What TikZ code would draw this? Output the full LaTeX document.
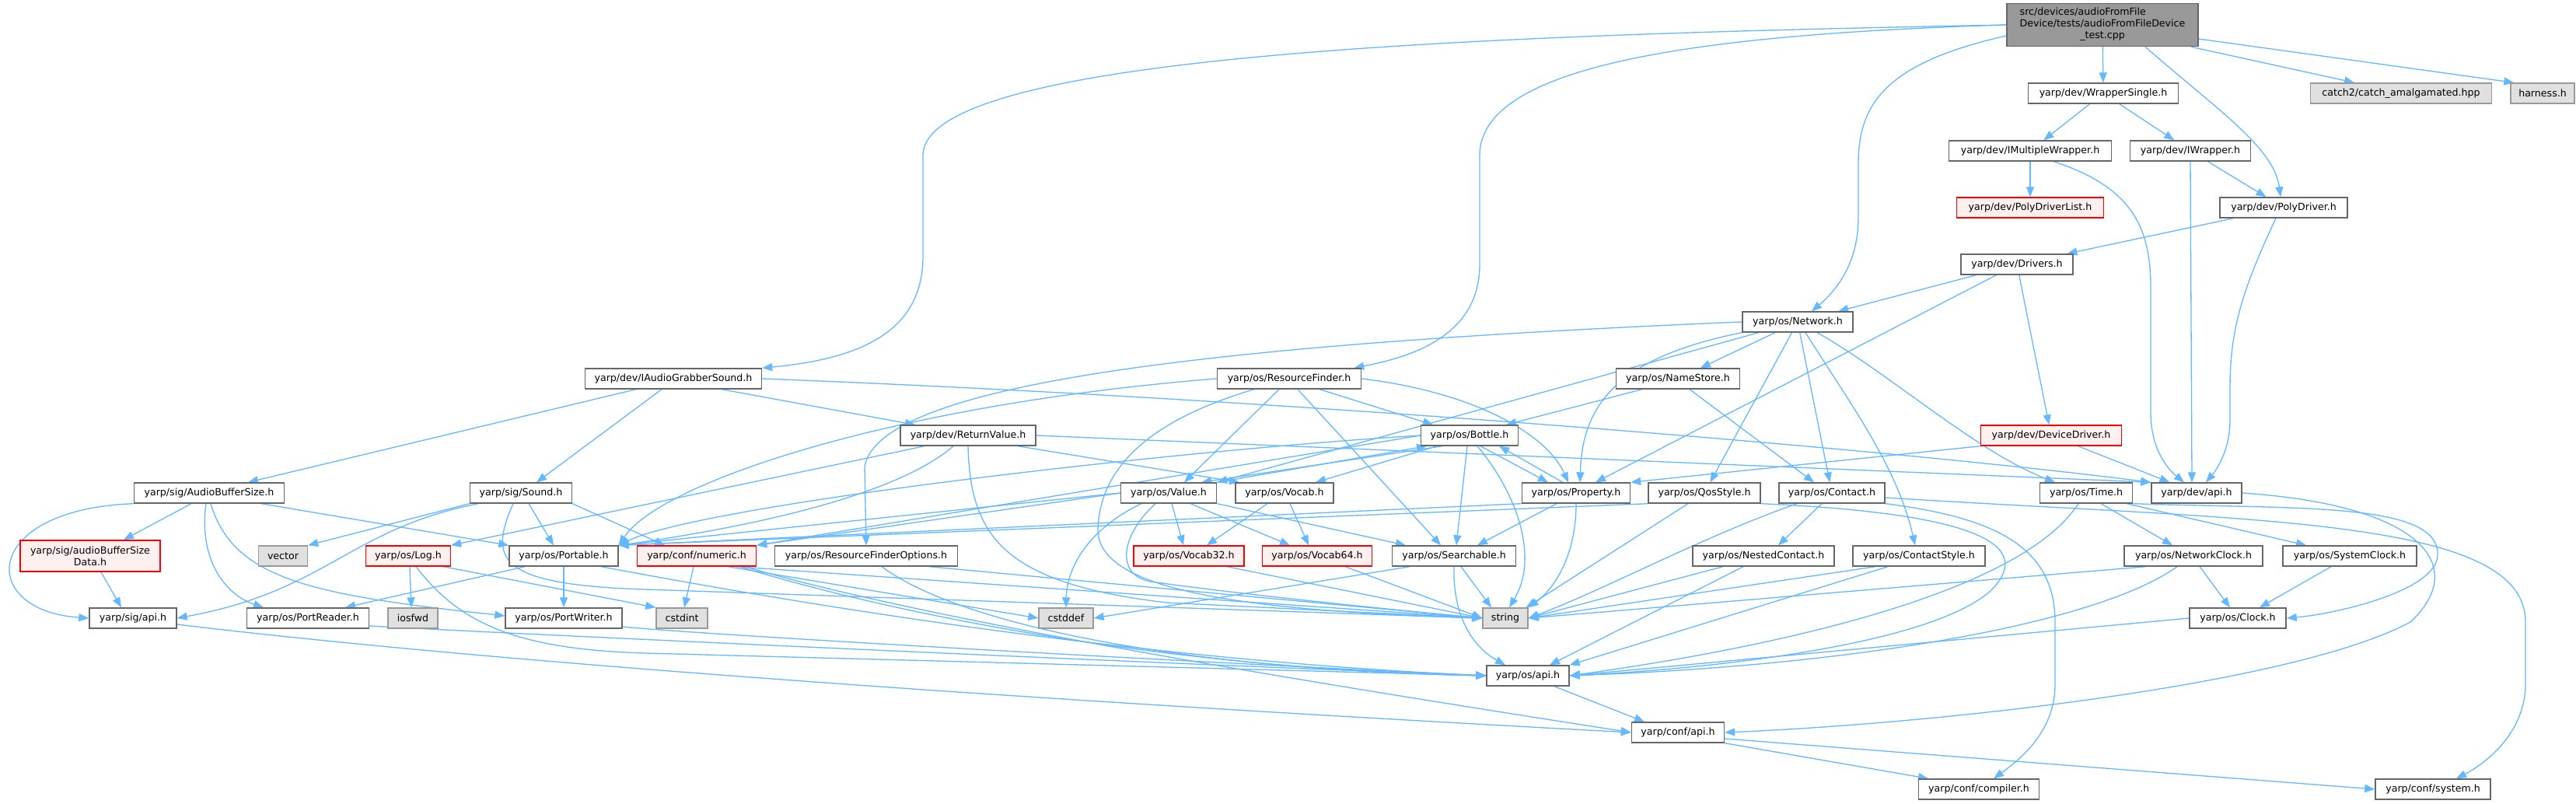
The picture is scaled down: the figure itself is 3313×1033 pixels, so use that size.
\documentclass[tikz,border=0pt]{standalone}
\usepackage{fontspec}
\setmainfont{DejaVu Sans}
\usetikzlibrary{arrows.meta,backgrounds}
\definecolor{eb}{HTML}{63B8FF}
\definecolor{bd}{HTML}{666666}
\definecolor{rd}{HTML}{FF0000}
\definecolor{rf}{HTML}{FFF0F0}
\definecolor{gf}{HTML}{E0E0E0}
\definecolor{gb}{HTML}{999999}
\tikzset{
 nd/.style={draw=bd, line width=1.4pt, fill=white, minimum height=26pt, inner xsep=4pt, inner ysep=2pt, font=\fontsize{12.6}{15}\selectfont},
 rednd/.style={nd, draw=rd, fill=rf},
 graynd/.style={nd, draw=gb, fill=gf},
 topnd/.style={nd, draw=bd, fill=gb},
 ed/.style={draw=eb, line width=1.3pt, -{Triangle[length=13pt,width=10pt]}},
}
\begin{document}
\begin{tikzpicture}[x=1pt,y=-1pt]
\useasboundingbox (0,0) rectangle (3313,1033);
% nodes
\node[topnd, minimum width=246pt, minimum height=55pt] (T) at (2704,32) {\begin{tabular}{@{}l@{}}src/devices/audioFromFile\\Device/tests/audioFromFileDevice\\\multicolumn{1}{@{}c@{}}{\_test.cpp}\end{tabular}};
\node[nd, minimum width=193pt] (WS) at (2705,120) {yarp/dev/WrapperSingle.h};
\node[graynd, minimum width=233pt] (CA) at (3088,120) {catch2/catch\_amalgamated.hpp};
\node[graynd, minimum width=82pt] (HA) at (3270,120) {harness.h};
\node[nd, minimum width=209pt] (IMW) at (2611,194) {yarp/dev/IMultipleWrapper.h};
\node[nd, minimum width=155pt] (IW) at (2817,194) {yarp/dev/IWrapper.h};
\node[rednd, minimum width=189pt] (PDL) at (2611,267) {yarp/dev/PolyDriverList.h};
\node[nd, minimum width=164pt] (PD) at (2937,267) {yarp/dev/PolyDriver.h};
\node[nd, minimum width=144pt] (DRV) at (2594,340) {yarp/dev/Drivers.h};
\node[nd, minimum width=142pt] (NET) at (2312,414) {yarp/os/Network.h};
\node[nd, minimum width=227pt] (IAGS) at (866,487) {yarp/dev/IAudioGrabberSound.h};
\node[nd, minimum width=185pt] (RF) at (1658,487) {yarp/os/ResourceFinder.h};
\node[nd, minimum width=159pt] (NS) at (2158,487) {yarp/os/NameStore.h};
\node[nd, minimum width=174pt] (RV) at (1245,560) {yarp/dev/ReturnValue.h};
\node[nd, minimum width=125pt] (BOT) at (1890,560) {yarp/os/Bottle.h};
\node[rednd, minimum width=181pt] (DD) at (2638,560) {yarp/dev/DeviceDriver.h};
\node[nd, minimum width=193pt] (ABS) at (269,634) {yarp/sig/AudioBufferSize.h};
\node[nd, minimum width=131pt] (SND) at (670,634) {yarp/sig/Sound.h};
\node[nd, minimum width=123pt] (VAL) at (1503,634) {yarp/os/Value.h};
\node[nd, minimum width=126pt] (VOC) at (1652,634) {yarp/os/Vocab.h};
\node[nd, minimum width=139pt] (PROP) at (2027,634) {yarp/os/Property.h};
\node[nd, minimum width=144pt] (QOS) at (2192,634) {yarp/os/QosStyle.h};
\node[nd, minimum width=136pt] (CON) at (2356,634) {yarp/os/Contact.h};
\node[nd, minimum width=119pt] (TIME) at (2683,634) {yarp/os/Time.h};
\node[nd, minimum width=116pt] (DAPI) at (2825,634) {yarp/dev/api.h};
\node[rednd, minimum width=180pt, minimum height=40pt, align=center] (ABSD) at (116,715) {yarp/sig/audioBufferSize\\Data.h};
\node[graynd, minimum width=63pt] (VEC) at (364,715) {vector};
\node[rednd, minimum width=109pt] (LOG) at (525,715) {yarp/os/Log.h};
\node[nd, minimum width=140pt] (PORT) at (725,715) {yarp/os/Portable.h};
\node[rednd, minimum width=153pt] (NUM) at (896,715) {yarp/conf/numeric.h};
\node[nd, minimum width=235pt] (RFO) at (1114,715) {yarp/os/ResourceFinderOptions.h};
\node[rednd, minimum width=142pt] (V32) at (1529,715) {yarp/os/Vocab32.h};
\node[rednd, minimum width=141pt] (V64) at (1694,715) {yarp/os/Vocab64.h};
\node[nd, minimum width=159pt] (SRCH) at (1870,715) {yarp/os/Searchable.h};
\node[nd, minimum width=182pt] (NC) at (2268,715) {yarp/os/NestedContact.h};
\node[nd, minimum width=170pt] (CS) at (2468,715) {yarp/os/ContactStyle.h};
\node[nd, minimum width=178pt] (NCLK) at (2821,715) {yarp/os/NetworkClock.h};
\node[nd, minimum width=172pt] (SCLK) at (3022,715) {yarp/os/SystemClock.h};
\node[nd, minimum width=112pt] (SAPI) at (171,795) {yarp/sig/api.h};
\node[nd, minimum width=157pt] (PR) at (396,795) {yarp/os/PortReader.h};
\node[graynd, minimum width=64pt] (IOS) at (531,795) {iosfwd};
\node[nd, minimum width=150pt] (PW) at (725,795) {yarp/os/PortWriter.h};
\node[graynd, minimum width=66pt] (CINT) at (877,795) {cstdint};
\node[graynd, minimum width=70pt] (CDEF) at (1371,795) {cstddef};
\node[graynd, minimum width=58pt] (STR) at (1936,795) {string};
\node[nd, minimum width=124pt] (CLK) at (2878,795) {yarp/os/Clock.h};
\node[nd, minimum width=106pt] (OSAPI) at (1965,869) {yarp/os/api.h};
\node[nd, minimum width=119pt] (CAPI) at (2158,942) {yarp/conf/api.h};
\node[nd, minimum width=155pt] (COMP) at (2545,1015) {yarp/conf/compiler.h};
\node[nd, minimum width=148pt] (SYS) at (3129,1015) {yarp/conf/system.h};
\begin{scope}[on background layer]
\fill[white] (0,0) rectangle (3313,1033);
% top node
\draw[ed] (T.west) .. controls (1900,45) and (1187,70) .. (1187,200) -- (1187,330) .. controls (1187,430) and (1100,462) .. (IAGS.north east);
\draw[ed] (T.west) .. controls (2150,45) and (1903,90) .. (1903,200) -- (1903,340) .. controls (1903,430) and (1820,458) .. ([xshift=-10pt]RF.north east);
\draw[ed] ([yshift=-14pt]T.west) .. controls (2430,80) and (2390,130) .. (2390,210) -- (2390,280) .. controls (2390,340) and (2360,375) .. ([xshift=18pt]NET.north);
\draw[ed] (T) -- (WS);
\draw[ed] ([xshift=-10pt]T.south east) -- ([xshift=-60pt]CA.north);
\draw[ed] ([yshift=-18pt]T.east) -- ([xshift=5pt]HA.north west);
\draw[ed] ([xshift=55pt]T.south) .. controls (2850,140) and (2925,190) .. ([xshift=-4pt]PD.north);
% wrappers / drivers
\draw[ed] (WS) -- (IMW);
\draw[ed] (WS) -- (IW);
\draw[ed] (IMW) -- (PDL);
\draw[ed] ([xshift=30pt]IMW.south) .. controls (2740,240) and (2766,290) .. (2766,370) -- (2766,530) .. controls (2766,580) and (2790,605) .. ([xshift=-16pt]DAPI.north);
\draw[ed] (IW.south) -- ([xshift=-6pt]DAPI.north);
\draw[ed] (IW) -- (PD);
\draw[ed] (PD) -- (DRV);
\draw[ed] ([xshift=-10pt]PD.south) .. controls (2880,380) and (2868,430) .. (2868,500) -- (2868,540) .. controls (2868,580) and (2850,605) .. ([xshift=12pt]DAPI.north);
\draw[ed] (DRV) -- (NET);
\draw[ed] (DRV) -- ([xshift=25pt]PROP.north);
\draw[ed] (DRV) -- (DD);
\draw[ed] (DD) -- (DAPI);
\draw[ed] (DD.south west) -- (PROP.north east);
% network
\draw[ed] (NET) -- (NS);
\draw[ed] (NET) -- (CON);
\draw[ed] (NET) -- (QOS);
\draw[ed] ([xshift=10pt]NET.south) .. controls (2380,520) and (2440,600) .. ([xshift=-5pt]CS.north);
\draw[ed] ([xshift=-50pt]NET.south) -- (VAL.north east);
\draw[ed] (NET.south west) .. controls (2080,460) and (2035,520) .. ([xshift=5pt]PROP.north);
\draw[ed] ([xshift=25pt]NET.south) .. controls (2430,480) and (2540,580) .. ([xshift=-40pt]TIME.north);
\draw[ed] (NET.west) .. controls (1500,445) and (1130,500) .. (1112,600) -- (RFO.north);
% audio grabber
\draw[ed] ([xshift=-48pt]IAGS.south) -- ([xshift=50pt]ABS.north);
\draw[ed] ([xshift=-15pt]IAGS.south) -- ([xshift=20pt]SND.north);
\draw[ed] ([xshift=62pt]IAGS.south) -- ([xshift=-68pt]RV.north);
\draw[ed] (IAGS.east) .. controls (1700,515) and (2450,580) .. (DAPI.north west);
% resource finder
\draw[ed] ([xshift=39pt]RF.south) -- ([xshift=-47pt]BOT.north);
\draw[ed] (RF.east) .. controls (1900,505) and (1990,560) .. ([xshift=-10pt]PROP.north);
\draw[ed] ([xshift=-13pt]RF.south) -- ([xshift=20pt]VAL.north);
\draw[ed] ([xshift=11pt]RF.south) -- ([xshift=-17pt]SRCH.north);
\draw[ed] ([xshift=-45pt]RF.south) .. controls (1480,540) and (1415,600) .. (1412,680) .. controls (1410,760) and (1600,785) .. (STR.west);
\draw[ed] (RF.west) .. controls (1150,520) and (850,620) .. (PORT.north east);
% name store
\draw[ed] ([xshift=-46pt]NS.south) -- ([xshift=47pt]BOT.north);
\draw[ed] ([xshift=15pt]NS.south) -- ([xshift=-23pt]CON.north);
% return value
\draw[ed] (RV.east) -- (DAPI.north west);
\draw[ed] ([xshift=64pt]RV.south) -- ([xshift=-58pt]VOC.north);
\draw[ed] (RV.south) .. controls (1248,690) and (1290,750) .. (1500,775) -- (STR.west);
\draw[ed] ([xshift=-56pt]RV.south) -- (LOG.north east);
\draw[ed] ([xshift=-19pt]RV.south) .. controls (1150,640) and (950,680) .. (PORT.north east);
% bottle
\draw[ed] ([xshift=-35pt]BOT.south) -- ([xshift=42pt]VAL.north);
\draw[ed] (VAL.north east) -- ([xshift=-55pt]BOT.south);
\draw[ed] ([xshift=-42pt]BOT.south) -- ([xshift=40pt]VOC.north);
\draw[ed] ([xshift=14pt]BOT.south) -- ([xshift=-36pt]PROP.north);
\draw[ed] ([xshift=-17pt]PROP.north) -- ([xshift=38pt]BOT.south);
\draw[ed] ([xshift=-3pt]BOT.south) -- ([xshift=3pt]SRCH.north);
\draw[ed] ([xshift=10pt]BOT.south) .. controls (1955,640) and (1978,720) .. ([xshift=5pt]STR.north);
\draw[ed] (BOT.west) .. controls (1500,580) and (900,650) .. (PORT.north east);
\draw[ed] (BOT.west) -- (NUM.north east);
% value
\draw[ed] ([xshift=-35pt]VAL.south) .. controls (1400,680) and (1372,730) .. (CDEF.north);
\draw[ed] ([xshift=-17pt]VAL.south) .. controls (1440,690) and (1435,740) .. (1480,748) .. controls (1600,765) and (1800,785) .. (STR.west);
\draw[ed] ([xshift=4pt]VAL.south) -- ([xshift=-7pt]V32.north);
\draw[ed] ([xshift=28pt]VAL.south) -- ([xshift=-35pt]V64.north);
\draw[ed] (VAL.south east) -- ([xshift=-62pt]SRCH.north);
\draw[ed] (VAL.west) -- (PORT.north east);
\draw[ed] (VAL.west) -- (NUM.north east);
% vocab
\draw[ed] ([xshift=-22pt]VOC.south) -- ([xshift=23pt]V32.north);
\draw[ed] ([xshift=7pt]VOC.south) -- ([xshift=-11pt]V64.north);
% property
\draw[ed] ([xshift=-25pt]PROP.south) -- ([xshift=30pt]SRCH.north);
\draw[ed] (PROP.south) .. controls (2027,720) and (1995,760) .. (STR.north east);
\draw[ed] (PROP.south west) -- (PORT.north east);
% qos
\draw[ed] ([xshift=-21pt]QOS.south) -- ([xshift=-3pt]STR.north east);
\draw[ed] (QOS.south west) -- (PORT.north east);
\draw[ed] (QOS.south east) .. controls (2540,660) and (2620,700) .. (2560,760) .. controls (2480,830) and (2200,860) .. (OSAPI.east);
% contact
\draw[ed] ([xshift=-13pt]CON.south) -- ([xshift=19pt]NC.north);
\draw[ed] ([xshift=-45pt]CON.south) .. controls (2190,690) and (2060,760) .. (STR.east);
\draw[ed] (CON.south east) .. controls (2560,665) and (2643,700) .. (2643,800) -- (2643,880) .. controls (2643,940) and (2600,975) .. ([xshift=19pt]COMP.north);
\draw[ed] ([yshift=-6pt]CON.east) .. controls (2900,670) and (3248,665) .. (3248,800) -- (3248,880) .. controls (3248,940) and (3200,980) .. ([xshift=30pt]SYS.north);
% time and clocks
\draw[ed] ([xshift=-10pt]TIME.south) .. controls (2600,760) and (2300,830) .. (OSAPI.east);
\draw[ed] ([xshift=19pt]TIME.south) -- ([xshift=-27pt]NCLK.north);
\draw[ed] ([xshift=-8pt]TIME.south east) -- ([xshift=-56pt]SCLK.north);
\draw[ed] (TIME.south east) .. controls (2950,655) and (3130,645) .. (3135,710) .. controls (3140,760) and (3000,790) .. (CLK.east);
\draw[ed] (DAPI.east) .. controls (3120,650) and (3175,730) .. (3100,800) .. controls (2950,880) and (2500,930) .. (CAPI.east);
\draw[ed] ([xshift=-61pt]NCLK.south) -- (STR.east);
\draw[ed] ([xshift=-21pt]NCLK.south) .. controls (2700,800) and (2400,855) .. (OSAPI.east);
\draw[ed] ([xshift=8pt]NCLK.south) -- ([xshift=-10pt]CLK.north);
\draw[ed] ([xshift=-24pt]SCLK.south) -- ([xshift=28pt]CLK.north);
\draw[ed] (CLK.west) -- (OSAPI.east);
% nested / contact style
\draw[ed] ([xshift=-52pt]NC.south) -- (STR.east);
\draw[ed] ([xshift=-26pt]NC.south) -- ([xshift=28pt]OSAPI.north);
\draw[ed] ([xshift=-56pt]CS.south) -- (STR.east);
\draw[ed] ([xshift=-40pt]CS.south) -- (OSAPI.north east);
% searchable, vocabs
\draw[ed] ([xshift=9pt]SRCH.south) -- ([xshift=-18pt]STR.north);
\draw[ed] (SRCH.south) .. controls (1868,800) and (1900,835) .. ([xshift=-29pt]OSAPI.north);
\draw[ed] ([xshift=-57pt]SRCH.south) -- (CDEF.east);
\draw[ed] ([xshift=49pt]V32.south) -- (STR.west);
\draw[ed] ([xshift=36pt]V64.south) -- (STR.west);
% portable and friends
\draw[ed] ([xshift=-50pt]PORT.south) -- ([xshift=48pt]PR.north);
\draw[ed] (PORT) -- (PW);
\draw[ed] ([xshift=48pt]PORT.south) .. controls (1100,790) and (1500,850) .. (OSAPI.west);
\draw[ed] ([yshift=-10pt]PR.east) .. controls (600,812) and (1400,850) .. (OSAPI.west);
\draw[ed] ([yshift=-11pt]PW.east) .. controls (900,816) and (1500,850) .. (OSAPI.west);
% log
\draw[ed] ([xshift=2pt]LOG.south) -- ([xshift=-2pt]IOS.north);
\draw[ed] ([xshift=-10pt]LOG.south east) -- (CINT.north west);
\draw[ed] ([xshift=10pt]LOG.south) .. controls (590,800) and (660,835) .. (830,840) -- (OSAPI.west);
% numeric
\draw[ed] ([xshift=-4pt]NUM.south) -- ([xshift=3pt]CINT.north);
\draw[ed] ([xshift=40pt]NUM.south) -- (CDEF.west);
\draw[ed] ([xshift=50pt]NUM.south) -- (STR.west);
\draw[ed] ([xshift=55pt]NUM.south) .. controls (1150,790) and (1500,860) .. (OSAPI.west);
\draw[ed] ([xshift=62pt]NUM.south) .. controls (1200,800) and (1700,880) .. (CAPI.west);
% resource finder options
\draw[ed] ([xshift=81pt]RFO.south) -- (STR.west);
\draw[ed] ([xshift=20pt]RFO.south) .. controls (1230,800) and (1500,860) .. (OSAPI.west);
% sig
\draw[ed] (ABS.south west) .. controls (-25,655) and (-30,785) .. (SAPI.west);
\draw[ed] ([xshift=-23pt]ABS.south) -- ([xshift=43pt]ABSD.north);
\draw[ed] ([xshift=67pt]ABS.south) -- (PORT.north west);
\draw[ed] ([xshift=-4pt]ABS.south) .. controls (255,720) and (290,765) .. ([xshift=-57pt]PR.north);
\draw[ed] ([xshift=2pt]ABS.south) .. controls (300,745) and (400,765) .. ([yshift=3pt]PW.west);
\draw[ed] ([xshift=14pt]ABSD.south) -- ([xshift=-15pt]SAPI.north);
\draw[ed] (SND.south west) -- (VEC.north east);
\draw[ed] ([xshift=-55pt]SND.south) .. controls (450,680) and (420,760) .. (SAPI.east);
\draw[ed] ([xshift=10pt]SND.south) -- ([xshift=-13pt]PORT.north);
\draw[ed] (SND.south east) -- ([xshift=-41pt]NUM.north);
\draw[ed] ([xshift=-10pt]SND.south) .. controls (628,720) and (640,752) .. (830,758) -- (STR.west);
\draw[ed] ([yshift=-8pt]SAPI.east) .. controls (700,860) and (1500,910) .. (CAPI.west);
% api layer
\draw[ed] ([xshift=34pt]OSAPI.south) -- ([xshift=-43pt]CAPI.north);
\draw[ed] (CAPI.south east) -- ([xshift=-65pt]COMP.north);
\draw[ed] ([yshift=-8pt]CAPI.east) -- (SYS.west);
\end{scope}
\end{tikzpicture}
\end{document}
